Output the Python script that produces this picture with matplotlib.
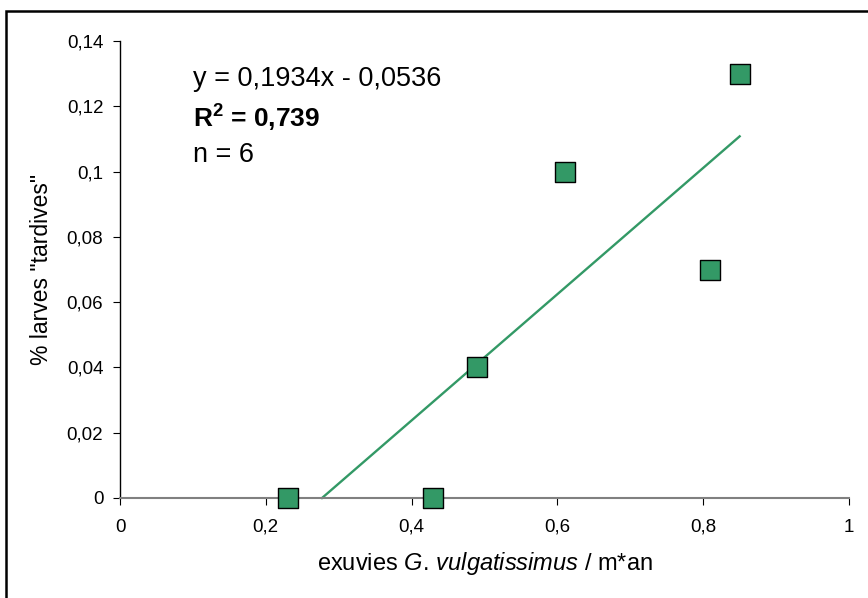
import matplotlib
matplotlib.use("Agg")
import matplotlib.pyplot as plt
from matplotlib.patches import Rectangle
import numpy as np

plt.rcParams['font.family'] = ['Liberation Sans', 'DejaVu Sans']
plt.rcParams['mathtext.fontset'] = 'custom'
plt.rcParams['mathtext.rm'] = 'Liberation Sans'
plt.rcParams['mathtext.it'] = 'Liberation Sans:italic'
plt.rcParams['mathtext.bf'] = 'Liberation Sans:bold'

x_vals = [0.23, 0.43, 0.49, 0.61, 0.81, 0.85]
y_vals = [0.0, 0.0, 0.04, 0.10, 0.07, 0.13]
slope = 0.1934
intercept = -0.0536
x_ticks = [0, 0.2, 0.4, 0.6, 0.8, 1]
x_tick_labels = ["0", "0,2", "0,4", "0,6", "0,8", "1"]
y_ticks = [0, 0.02, 0.04, 0.06, 0.08, 0.10, 0.12, 0.14]
y_tick_labels = ["0", "0,02", "0,04", "0,06", "0,08", "0,1", "0,12", "0,14"]

W, H = 868, 598
fig = plt.figure(figsize=(W/100, H/100), dpi=100)
ax = fig.add_axes([120/W, 1-498/H, (849-120)/W, (498-41)/H])

green = "#339966"
# trendline
x0 = -intercept/slope
xl = np.array([x0, max(x_vals)])
ax.plot(xl, slope*xl + intercept, color=green, lw=1.7, zorder=2, clip_on=False)
ax.scatter(x_vals, y_vals, marker='s', s=190, facecolor=green, edgecolor='black',
           linewidths=1.0, zorder=3, clip_on=False)

ax.set_xlim(0, 1)
ax.set_ylim(0, 0.14)
ax.set_xticks(x_ticks)
ax.set_xticklabels(x_tick_labels)
ax.set_yticks(y_ticks)
ax.set_yticklabels(y_tick_labels)
for s in ['top', 'right']:
    ax.spines[s].set_visible(False)
ax.spines['bottom'].set_color('#808080')
ax.spines['bottom'].set_linewidth(1.5)
ax.spines['left'].set_color('black')
ax.spines['left'].set_linewidth(1.0)
ax.tick_params(axis='both', direction='out', length=5, labelsize=13.5, pad=7)
ax.tick_params(axis='x', color='black', pad=10)

ax.set_xlabel(r"exuvies $\mathit{G.}$$\,$$\mathit{vulgatissimus}$ / m*an", fontsize=17, labelpad=10)
ax.set_ylabel('% larves "tardives"', fontsize=16.5, labelpad=10)

fig.text(193/W, 1-86/H, "y = 0,1934x - 0,0536", fontsize=19.5, va='baseline')
fig.text(193/W, 1-128/H, r"R$^\mathbf{2}$ = 0,739", fontsize=19, fontweight='bold', va='baseline')
fig.text(193/W, 1-162/H, "n = 6", fontsize=19.5, va='baseline')

fig.patches.append(Rectangle((6/W, -0.05), 1.0, 1-11/H+0.05, transform=fig.transFigure,
                             fill=False, edgecolor='black', lw=1.8))

fig.savefig("out.png", dpi=100)
